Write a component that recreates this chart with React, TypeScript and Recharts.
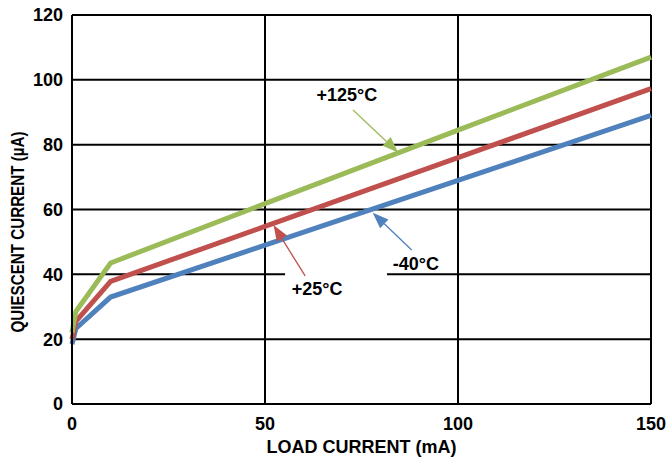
import {
  CartesianGrid,
  Label,
  Line,
  LineChart,
  ReferenceArea,
  ReferenceDot,
  ReferenceLine,
  XAxis,
  YAxis,
} from 'recharts';

const loads = [0, 1, 10, 50, 100, 150];
const hot = [22, 28.5, 43.5, 61.8, 84.5, 107];
const room = [20, 25.5, 37.8, 54.8, 76, 97.3];
const cold = [18.5, 23.3, 33, 49, 69, 89];

const xTicks = [0, 50, 100, 150];
const yTicks = [0, 20, 40, 60, 80, 100, 120];

const data = loads.map((load, i) => ({ load, hot: hot[i], room: room[i], cold: cold[i] }));

const font = '"Liberation Sans", Arial, sans-serif';

const arrow = (color: string) => (p: any) => {
  const { x1, y1, x2, y2 } = p;
  const a = Math.atan2(y2 - y1, x2 - x1);
  const len = 16;
  const hw = 6;
  const bx = x2 - len * Math.cos(a);
  const by = y2 - len * Math.sin(a);
  const nx = -Math.sin(a) * hw;
  const ny = Math.cos(a) * hw;
  return (
    <g>
      <line x1={x1} y1={y1} x2={bx} y2={by} stroke={color} strokeWidth={1.3} />
      <polygon points={`${x2},${y2} ${bx + nx},${by + ny} ${bx - nx},${by - ny}`} fill={color} />
    </g>
  );
};

const tag = (text: string) => (p: any) => (
  <text
    x={p.cx}
    y={p.cy}
    textAnchor="middle"
    dominantBaseline="central"
    fontFamily={font}
    fontWeight="bold"
    fontSize={18}
    fill="#000"
  >
    {text}
  </text>
);

export default function App() {
  return (
    <div style={{ position: 'absolute', left: 0, top: 0, background: '#fff' }}>
      <LineChart width={667} height={457} data={data} margin={{ top: 15, right: 16, left: 0, bottom: 0 }}>
        <CartesianGrid stroke="#000" strokeWidth={2} horizontalValues={yTicks} verticalValues={xTicks} />
        <XAxis
          dataKey="load"
          type="number"
          domain={[0, 150]}
          ticks={xTicks}
          height={53}
          tickSize={0}
          tickMargin={13}
          axisLine={{ stroke: '#000', strokeWidth: 2 }}
          tick={{ fill: '#000', fontFamily: font, fontWeight: 'bold', fontSize: 18 }}
        >
          <Label
            value="LOAD CURRENT (mA)"
            position="insideBottom"
            offset={4}
            fill="#000"
            style={{ fontFamily: font, fontWeight: 'bold', fontSize: 18 }}
          />
        </XAxis>
        <YAxis
          type="number"
          domain={[0, 120]}
          ticks={yTicks}
          width={72}
          tickSize={0}
          tickMargin={9}
          axisLine={{ stroke: '#000', strokeWidth: 2 }}
          tick={{ fill: '#000', fontFamily: font, fontWeight: 'bold', fontSize: 18 }}
        >
          <Label
            content={() => (
              <text
                x={18}
                y={232}
                transform="rotate(-90 18 232)"
                textAnchor="middle"
                dominantBaseline="central"
                fontFamily={font}
                fontWeight="bold"
                fontSize={18}
                textLength={201}
                lengthAdjust="spacingAndGlyphs"
                fill="#000"
              >
                QUIESCENT CURRENT (µA)
              </text>
            )}
          />
        </YAxis>
        <ReferenceArea x1={55.2} x2={81.6} y1={37.2} y2={41.5} fill="#fff" fillOpacity={1} stroke="none" />
        <Line dataKey="cold" stroke="#4F81BD" strokeWidth={5} dot={false} isAnimationActive={false} />
        <Line dataKey="room" stroke="#C0504D" strokeWidth={5} dot={false} isAnimationActive={false} />
        <Line dataKey="hot" stroke="#9BBB59" strokeWidth={5} dot={false} isAnimationActive={false} />
        <ReferenceLine segment={[{ x: 72.8, y: 90.7 }, { x: 84.5, y: 77.6 }]} shape={arrow('#9BBB59')} />
        <ReferenceLine segment={[{ x: 60.4, y: 39.5 }, { x: 52.2, y: 55.2 }]} shape={arrow('#C0504D')} />
        <ReferenceLine segment={[{ x: 88.0, y: 47.5 }, { x: 77.9, y: 59.0 }]} shape={arrow('#4F81BD')} />
        <ReferenceDot x={71.2} y={95.3} r={0} shape={tag('+125°C')} />
        <ReferenceDot x={63.5} y={35.5} r={0} shape={tag('+25°C')} />
        <ReferenceDot x={89.1} y={43.2} r={0} shape={tag('-40°C')} />
      </LineChart>
    </div>
  );
}
